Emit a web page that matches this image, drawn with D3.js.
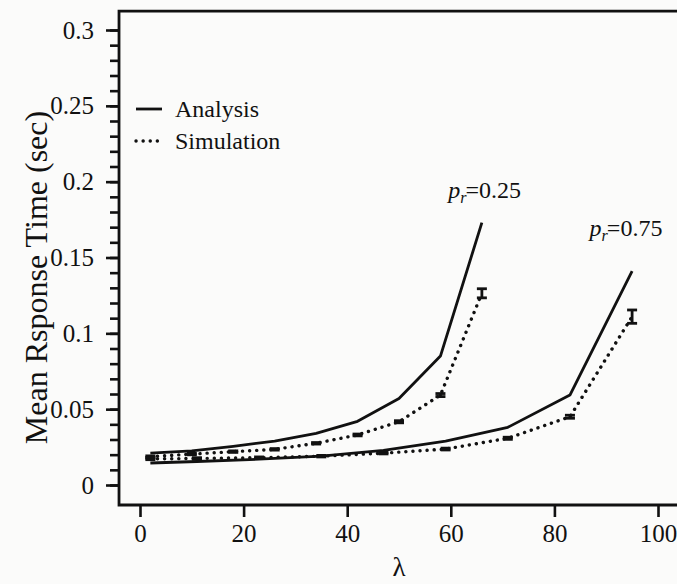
<!DOCTYPE html>
<html>
<head>
<meta charset="utf-8">
<script src="https://cdn.jsdelivr.net/npm/d3@7/dist/d3.min.js"></script>
<style>
  html, body { margin: 0; padding: 0; background: #fbfbfa; }
  svg { display: block; }
  text { font-family: "Liberation Serif", "Times New Roman", serif; fill: #111; }
</style>
</head>
<body>
<svg id="chart" width="677" height="584"></svg>
<script>
// ---- data ----
const lambda25 = [2, 10, 18, 26, 34, 42, 50, 58, 66];
const analysis25 = [0.021, 0.0225, 0.0255, 0.029, 0.034, 0.042, 0.057, 0.085, 0.173];
const simulation25 = [0.0187, 0.0204, 0.022, 0.0235, 0.0275, 0.033, 0.0417, 0.0593, 0.1264];
const simError25 = [0.0005, 0.0005, 0.0005, 0.0005, 0.0005, 0.0006, 0.0007, 0.001, 0.003];

const lambda75 = [2, 11, 23, 35, 47, 59, 71, 83, 95];
const analysis75 = [0.0145, 0.0155, 0.017, 0.019, 0.0228, 0.029, 0.038, 0.0593, 0.141];
const simulation75 = [0.0172, 0.0175, 0.018, 0.019, 0.021, 0.0237, 0.0308, 0.045, 0.111];
const simError75 = [0.0005, 0.0005, 0.0005, 0.0005, 0.0005, 0.0006, 0.0007, 0.001, 0.0044];

const xTicks = [0, 20, 40, 60, 80, 100];
const xTickLabels = ["0", "20", "40", "60", "80", "100"];
const yTicks = [0, 0.05, 0.1, 0.15, 0.2, 0.25, 0.3];
const yTickLabels = ["0", "0.05", "0.1", "0.15", "0.2", "0.25", "0.3"];
const yMinorTicks = d3.range(0, 31).map(i => i / 100);

const seriesLabels = ["Analysis", "Simulation"];
const curveLabels = [{ name: "0.25", lam: 59.5, val: 0.189 }, { name: "0.75", lam: 86.8, val: 0.164 }];

// ---- layout ----
const svg = d3.select("#chart");
const ink = "#111";
const x = d3.scaleLinear().domain([0, 100]).range([140, 658]);
const y = d3.scaleLinear().domain([0, 0.3]).range([485, 30]);

const frameLeft = x(-4.05), frameRight = x(105), frameTop = y(0.3125), frameBottom = y(-0.0132);

// frame (left, top, bottom; right side is outside the visible area)
svg.append("path")
  .attr("d", `M${frameRight},${frameTop} L${frameLeft},${frameTop} L${frameLeft},${frameBottom} L${frameRight},${frameBottom}`)
  .attr("fill", "none").attr("stroke", ink).attr("stroke-width", 2.8);

// y axis minor ticks
const yMinor = svg.append("g").attr("transform", `translate(${frameLeft},0)`)
  .call(d3.axisLeft(y).tickValues(yMinorTicks).tickSize(9).tickFormat(""));
// y axis major ticks
const yAxis = svg.append("g").attr("transform", `translate(${frameLeft},0)`)
  .call(d3.axisLeft(y).tickValues(yTicks).tickSize(13).tickPadding(12)
    .tickFormat((d, i) => yTickLabels[i]));
// x axis
const xAxis = svg.append("g").attr("transform", `translate(0,${frameBottom})`)
  .call(d3.axisBottom(x).tickValues(xTicks).tickSize(12).tickPadding(7)
    .tickFormat((d, i) => xTickLabels[i]));

[yMinor, yAxis, xAxis].forEach(g => {
  g.select(".domain").remove();
  g.selectAll(".tick line").attr("stroke", ink).attr("stroke-width", 2.6);
  g.selectAll(".tick text").attr("font-size", 25).attr("fill", ink)
    .style("font-family", '"Liberation Serif", serif');
});

// axis titles
svg.append("text")
  .attr("transform", `translate(47,${(y(0) + y(0.3)) / 2 + 20}) rotate(-90)`)
  .attr("text-anchor", "middle").attr("font-size", 32)
  .text("Mean Rsponse Time (sec)");
svg.append("text")
  .attr("x", (x(0) + x(100)) / 2).attr("y", 576)
  .attr("text-anchor", "middle").attr("font-size", 27)
  .text("λ");

// lines
const line = d3.line().x(d => x(d[0])).y(d => y(d[1]));
const solidStyle = sel => sel.attr("fill", "none").attr("stroke", ink).attr("stroke-width", 2.8).attr("stroke-linejoin", "round");
const dotStyle = sel => sel.attr("fill", "none").attr("stroke", ink).attr("stroke-width", 3.4)
  .attr("stroke-linecap", "round").attr("stroke-dasharray", "0.1 7");

svg.append("path").datum(d3.zip(lambda25, analysis25)).attr("d", line).call(solidStyle);
svg.append("path").datum(d3.zip(lambda75, analysis75)).attr("d", line).call(solidStyle);
svg.append("path").datum(d3.zip(lambda25, simulation25)).attr("d", line).call(dotStyle);
svg.append("path").datum(d3.zip(lambda75, simulation75)).attr("d", line).call(dotStyle);

// error bars on simulation points
function errorBars(lams, vals, errs) {
  const g = svg.append("g").attr("stroke", ink).attr("stroke-width", 2.8).attr("fill", "none");
  lams.forEach((l, i) => {
    const cx = x(l), y1 = y(vals[i] + errs[i]), y2 = y(vals[i] - errs[i]);
    g.append("line").attr("x1", cx).attr("x2", cx).attr("y1", y1).attr("y2", y2);
    g.append("line").attr("x1", cx - 5).attr("x2", cx + 5).attr("y1", y1).attr("y2", y1);
    g.append("line").attr("x1", cx - 5).attr("x2", cx + 5).attr("y1", y2).attr("y2", y2);
  });
}
errorBars(lambda25, simulation25, simError25);
errorBars(lambda75, simulation75, simError75);

// curve labels p_r = ...
curveLabels.forEach(c => {
  const t = svg.append("text").attr("x", x(c.lam)).attr("y", y(c.val)).attr("font-size", 24);
  t.append("tspan").attr("font-style", "italic").text("p");
  t.append("tspan").attr("font-style", "italic").attr("font-size", 16).attr("dy", 5).text("r");
  t.append("tspan").attr("dy", -5).attr("dx", -1).text("=" + c.name);
});

// legend
const legend = svg.append("g");
const legendRows = [{ label: seriesLabels[0], style: solidStyle, yy: 109 }, { label: seriesLabels[1], style: dotStyle, yy: 141 }];
legendRows.forEach(r => {
  legend.append("line").attr("x1", 136).attr("x2", 162).attr("y1", r.yy).attr("y2", r.yy).call(r.style);
  legend.append("text").attr("x", 175).attr("y", r.yy + 8).attr("font-size", 24).text(r.label);
});
</script>
</body>
</html>
